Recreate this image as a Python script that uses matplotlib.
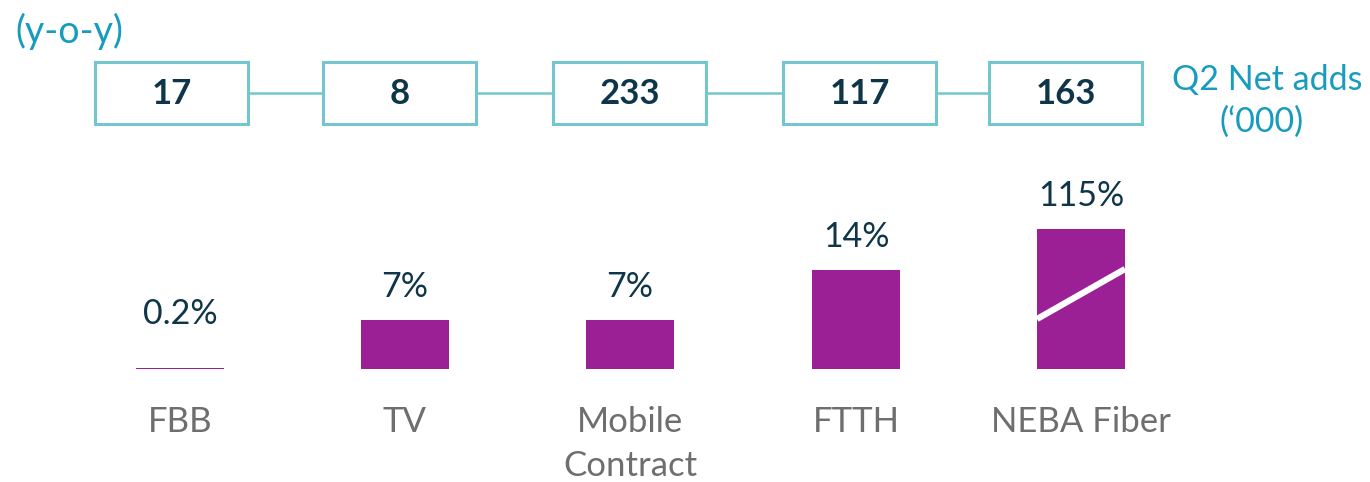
import matplotlib.pyplot as plt
from matplotlib.patches import Rectangle

plt.rcParams['font.family'] = ['Lato', 'DejaVu Sans']

categories = ['FBB', 'TV', 'Mobile\nContract', 'FTTH', 'NEBA Fiber']
growth = [0.2, 7, 7, 14, 115]            # y-o-y %
growth_labels = ['0.2%', '7%', '7%', '14%', '115%']
net_adds = [17, 8, 233, 117, 163]        # Q2 net adds ('000)

purple = '#9B2095'
teal = '#73C6CD'
blue = '#179BBE'
navy = '#0F3549'
grey = '#6E6E6E'

fig = plt.figure(figsize=(13.7, 4.82), dpi=100)
ax = fig.add_axes([0, 0, 1, 1])
ax.set_xlim(0, 1370)
ax.set_ylim(482, 0)
ax.axis('off')

bar_x = [180, 405, 630, 856, 1081]
bar_w = 88
base = 369
px_per_pct = 7.07
cap = 140  # broken bar height in px

box_x = [172, 400, 630, 860, 1066]
box_w, box_h, box_y = 153, 62, 93

# connector line between boxes
for i in range(len(box_x) - 1):
    ax.plot([box_x[i] + box_w / 2, box_x[i + 1] - box_w / 2], [box_y, box_y],
            color=teal, lw=1.8, zorder=1)

for i, v in enumerate(net_adds):
    ax.add_patch(Rectangle((box_x[i] - box_w / 2, box_y - box_h / 2), box_w, box_h,
                           facecolor='white', edgecolor=teal, lw=2.2, zorder=2))
    ax.text(box_x[i], box_y + 1, str(v), ha='center', va='center',
            fontsize=25, fontweight='bold', color=navy, zorder=3)

for i, v in enumerate(growth):
    h = min(v * px_per_pct, cap)
    ax.add_patch(Rectangle((bar_x[i] - bar_w / 2, base - h), bar_w, max(h, 1.5),
                           facecolor=purple, edgecolor='none'))
    top = min(base - h, base - 22)
    ax.text(bar_x[i], top - 33, growth_labels[i], ha='center', va='center',
            fontsize=24.5, color=navy)
    if v * px_per_pct > cap:
        ax.plot([bar_x[i] - bar_w / 2, bar_x[i] + bar_w / 2],
                [base - h + 90, base - h + 40], color='white', lw=4.5,
                solid_capstyle='butt')
    ax.text(bar_x[i], 406, categories[i], ha='center', va='top',
            fontsize=25, color=grey, linespacing=1.48)

ax.text(15, 31, '(y-o-y)', ha='left', va='center', fontsize=27, color=blue)
ax.text(1267, 80, 'Q2 Net adds', ha='center', va='center', fontsize=24.5, color=blue)
ax.text(1262, 122, '(\u2018000)', ha='center', va='center', fontsize=24.5, color=blue)

fig.savefig('out.png', dpi=100)
